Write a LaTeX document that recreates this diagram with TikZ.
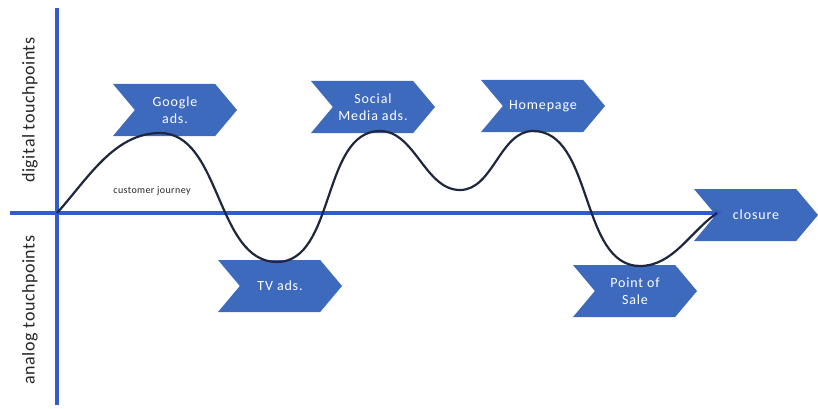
\documentclass[tikz,border=0pt]{standalone}
\usepackage{fontspec}
\setmainfont{Carlito}
\usetikzlibrary{shapes.symbols,arrows.meta}
\definecolor{chevblue}{RGB}{62,106,190}
\definecolor{axisblue}{RGB}{52,92,200}
\definecolor{curvenavy}{RGB}{30,38,64}
\tikzset{
  chev/.style={signal, signal from=west, signal to=east, signal pointer angle=100,
    fill=chevblue, draw=none, minimum width=124pt, minimum height=52pt, inner sep=0pt,
    text=white, font=\fontsize{14}{17}\selectfont\addfontfeatures{LetterSpace=6}, align=center},
  axisline/.style={axisblue, line width=3.2pt},
  journey/.style={curvenavy, line width=2.2pt},
  axlabel/.style={rotate=90, font=\fontsize{18}{20}\selectfont\addfontfeatures{LetterSpace=3}, text=black!85}
}
\begin{document}
\begin{tikzpicture}[x=1pt,y=-1pt]
\useasboundingbox (0,0) rectangle (818,409);
% chevrons
\node[chev] (google) at (175,110) {Google\\ads.};
\node[chev] (social) at (373,107) {Social\\Media ads.};
\node[chev] (home) at (543,106) {Homepage};
\node[chev] (tv) at (280,286) {TV ads.};
\node[chev] (pos) at (635,291) {Point of\\Sale};
\node[chev] (closure) at (756,215) {closure};
% axes
\coordinate (origin) at (57,213);
\coordinate (ytop) at (57,8);
\coordinate (ybot) at (57,405);
\coordinate (xleft) at (10,213);
\coordinate (xend) at (722,213);
\draw[axisline] (ytop) -- (ybot);
\draw[axisline,-{Stealth[length=9pt,width=10pt]}] (xleft) -- (xend);
% curve
\coordinate (p1) at (160,133);
\coordinate (t1) at (277,262);
\coordinate (p2) at (380,131);
\coordinate (t2) at (460,190);
\coordinate (p3) at (533,131);
\coordinate (t3) at (640,266);
\coordinate (cend) at (717,213);
\draw[journey] (origin) to[out=48,in=180,looseness=0.9] (p1)
  to[out=0,in=180,looseness=0.9] (t1)
  to[out=0,in=180,looseness=0.9] (p2)
  to[out=0,in=180,looseness=0.9] (t2)
  to[out=0,in=180,looseness=0.9] (p3)
  to[out=0,in=180,looseness=0.9] (t3)
  to[out=0,in=215,looseness=0.9] (cend);
% labels
\node[font=\fontsize{10}{11}\selectfont\addfontfeatures{LetterSpace=4}, text=black!85] (cj) at (152,191) {customer journey};
\node[axlabel] (digital) at (30,110) {digital touchpoints};
\node[axlabel] (analog) at (30,310) {analog touchpoints};
\end{tikzpicture}
\end{document}
